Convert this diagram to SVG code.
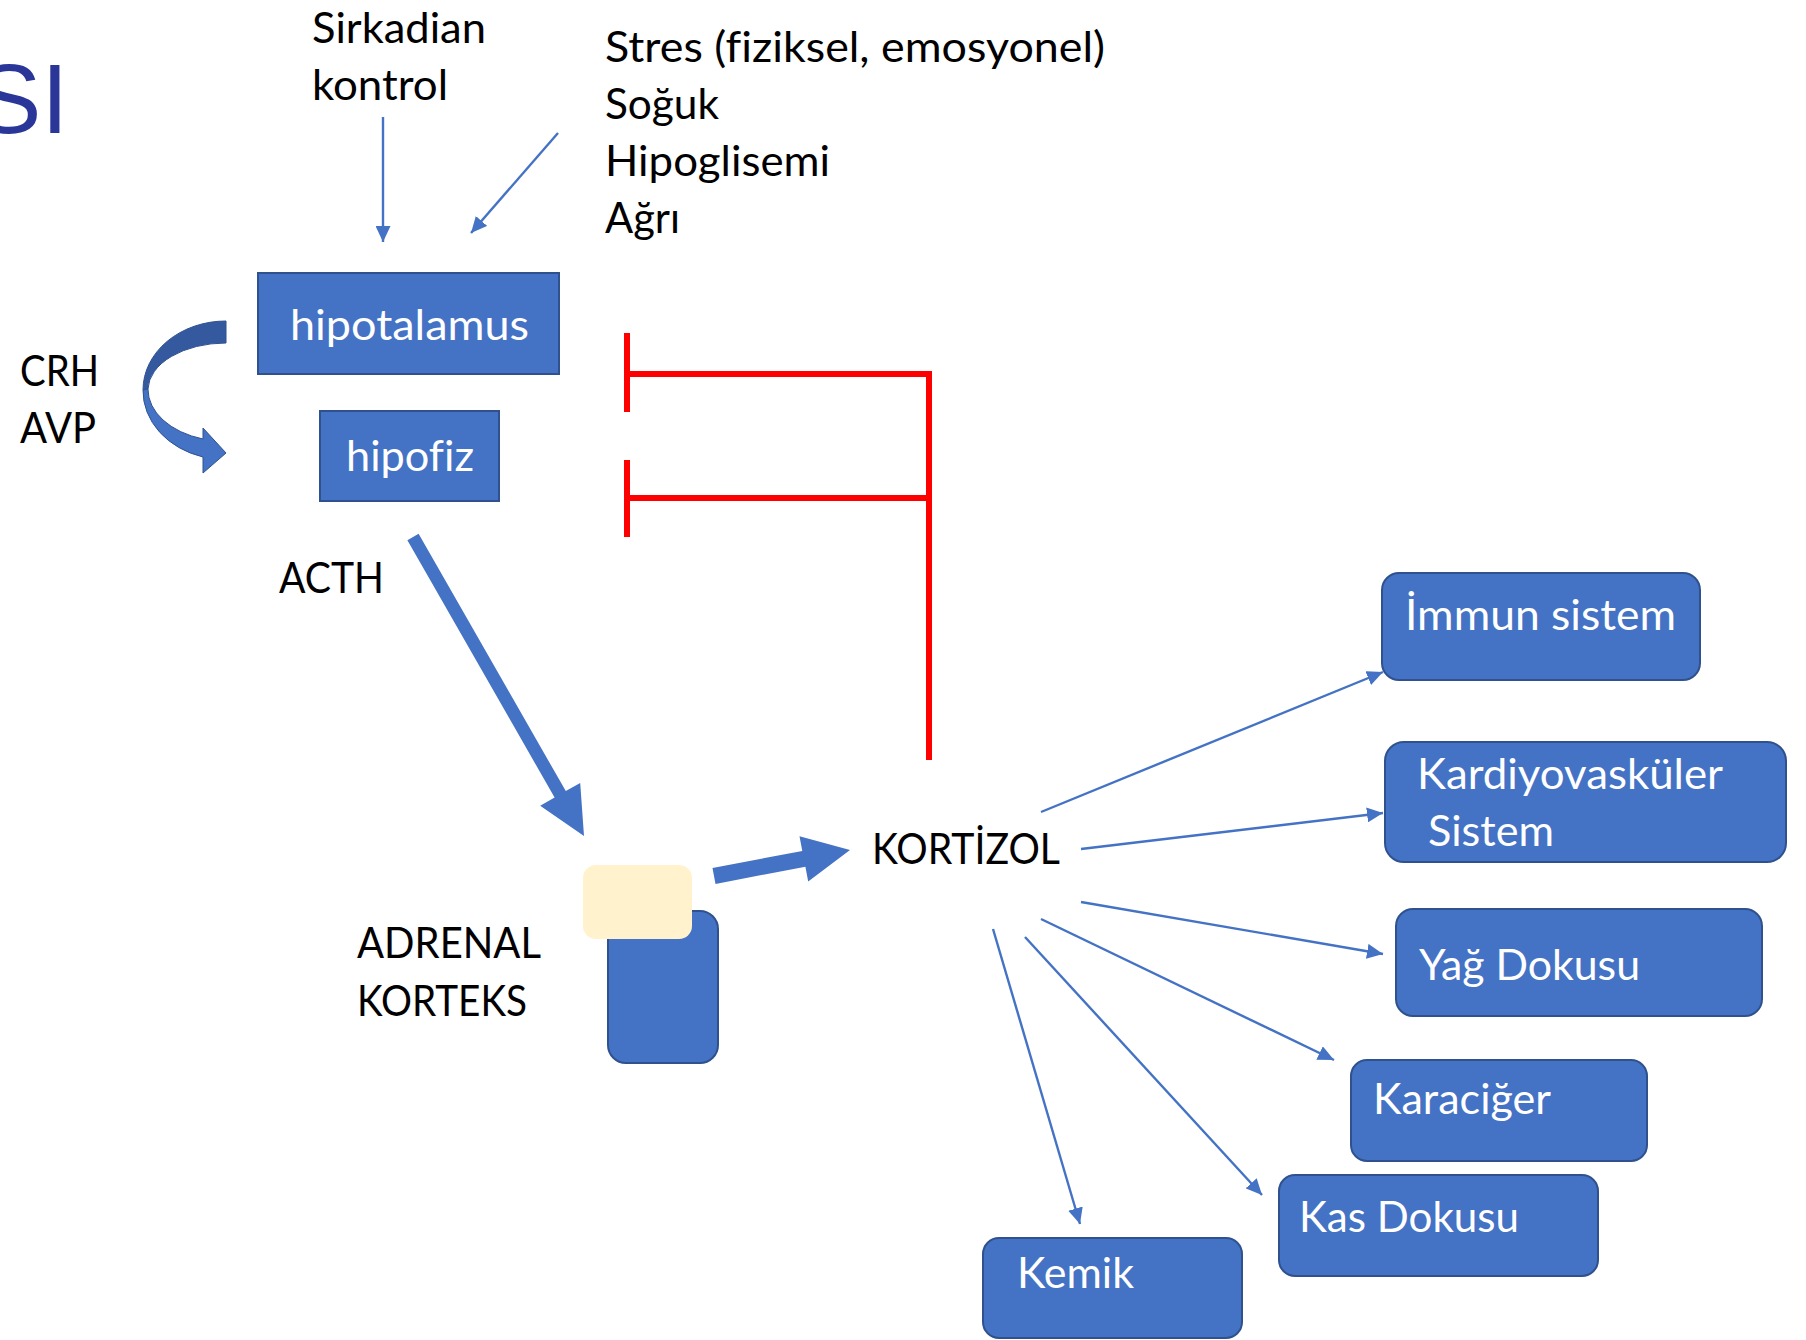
<svg xmlns="http://www.w3.org/2000/svg" width="1806" height="1340" viewBox="0 0 1806 1340">
<defs>
<style>
.lbl{font-family:Lato,"Open Sans","DejaVu Sans",sans-serif;font-size:42px;fill:#000;font-variant-ligatures:none;font-feature-settings:"liga" 0,"clig" 0}
.w{fill:#fff}
.box{fill:#4472C4;stroke:#2F528F;stroke-width:2}
.thin{stroke:#4472C4;stroke-width:2.4;fill:none;marker-end:url(#ah)}
.red{stroke:#FF0000;stroke-width:6;fill:none}
.thick{fill:#4472C4}
</style>
<marker id="ah" markerUnits="userSpaceOnUse" markerWidth="16" markerHeight="15" refX="16" refY="7.5" orient="auto">
<path d="M0,0 L16,7.5 L0,15 z" fill="#4472C4"/>
</marker>
</defs>
<rect width="1806" height="1340" fill="#fff"/>
<text x="-24" y="133" font-family="'Liberation Sans',Arial,sans-serif" font-size="98" fill="#2A3698">SI</text>

<g id="labels">
<text class="lbl" x="312" y="43" textLength="174" lengthAdjust="spacingAndGlyphs">Sirkadian</text>
<text class="lbl" x="312" y="100" textLength="136" lengthAdjust="spacingAndGlyphs">kontrol</text>
<text class="lbl" x="605" y="62" textLength="500" lengthAdjust="spacingAndGlyphs">Stres (fiziksel, emosyonel)</text>
<text class="lbl" x="605" y="119" textLength="114" lengthAdjust="spacingAndGlyphs">Soğuk</text>
<text class="lbl" x="605" y="176" textLength="225" lengthAdjust="spacingAndGlyphs">Hipoglisemi</text>
<text class="lbl" x="605" y="233" textLength="75" lengthAdjust="spacingAndGlyphs">Ağrı</text>
<text class="lbl" x="20" y="386" textLength="79" lengthAdjust="spacingAndGlyphs">CRH</text>
<text class="lbl" x="20" y="443" textLength="76" lengthAdjust="spacingAndGlyphs">AVP</text>
<text class="lbl" x="279" y="593" textLength="105" lengthAdjust="spacingAndGlyphs">ACTH</text>
<text class="lbl" x="357" y="958" textLength="184" lengthAdjust="spacingAndGlyphs">ADRENAL</text>
<text class="lbl" x="357" y="1016" textLength="170" lengthAdjust="spacingAndGlyphs">KORTEKS</text>
</g>

<g id="hipotalamus">
<rect class="box" x="258" y="273" width="301" height="101"/>
<text class="lbl w" x="290" y="340" textLength="239" lengthAdjust="spacingAndGlyphs">hipotalamus</text>
</g>
<g id="hipofiz">
<rect class="box" x="320" y="411" width="179" height="90"/>
<text class="lbl w" x="346" y="471" textLength="128" lengthAdjust="spacingAndGlyphs">hipofiz</text>
</g>
<g id="adrenal">
<rect x="608" y="911" width="110" height="152" rx="18" fill="#4472C4" stroke="#2F528F" stroke-width="2"/>
<rect x="583" y="865" width="109" height="74" rx="13" fill="#FFF2CC"/>
</g>
<g id="kortizol">
<text class="lbl" x="872" y="864" textLength="188" lengthAdjust="spacingAndGlyphs">KORTİZOL</text>
</g>
<g id="immun">
<rect class="box" x="1382" y="573" width="318" height="107" rx="17"/>
<text class="lbl w" x="1405" y="630" textLength="271" lengthAdjust="spacingAndGlyphs">İmmun sistem</text>
</g>
<g id="kardiyovaskuler">
<rect class="box" x="1385" y="742" width="401" height="120" rx="19"/>
<text class="lbl w" x="1417" y="789" textLength="306" lengthAdjust="spacingAndGlyphs">Kardiyovasküler</text>
<text class="lbl w" x="1428" y="846" textLength="126" lengthAdjust="spacingAndGlyphs">Sistem</text>
</g>
<g id="yag">
<rect class="box" x="1396" y="909" width="366" height="107" rx="17"/>
<text class="lbl w" x="1419" y="980" textLength="221" lengthAdjust="spacingAndGlyphs">Yağ Dokusu</text>
</g>
<g id="karaciger">
<rect class="box" x="1351" y="1060" width="296" height="101" rx="16"/>
<text class="lbl w" x="1373" y="1114" textLength="178" lengthAdjust="spacingAndGlyphs">Karaciğer</text>
</g>
<g id="kas">
<rect class="box" x="1279" y="1175" width="319" height="101" rx="16"/>
<text class="lbl w" x="1299" y="1232" textLength="220" lengthAdjust="spacingAndGlyphs">Kas Dokusu</text>
</g>
<g id="kemik">
<rect class="box" x="983" y="1238" width="259" height="100" rx="16"/>
<text class="lbl w" x="1017" y="1288" textLength="117" lengthAdjust="spacingAndGlyphs">Kemik</text>
</g>

<g id="connectors">
<line class="thin" x1="383" y1="117" x2="383" y2="242"/>
<line class="thin" x1="558" y1="133" x2="471" y2="233"/>
<path d="M226,321 A83,69 0 0 0 143,390 L148,389 A78,47 0 0 1 226,343 Z" fill="#34599E" stroke="#2F528F" stroke-width="1"/>
<path d="M143,390 A83,69 0 0 0 203,457 L203,473 L226,453 L203,428 L203,439 A78,52 0 0 1 148,389 Z" fill="#4472C4" stroke="#2F528F" stroke-width="1"/>
<polyline class="red" points="627,333 627,412"/>
<polyline class="red" points="627,374 929,374 929,760"/>
<polyline class="red" points="627,460 627,537"/>
<polyline class="red" points="627,498 929,498"/>
<polygon class="thick" points="418.6,533.8 565.8,791.1 580.2,782.9 584,836 540.2,805.7 554.6,797.5 407.4,540.2"/>
<polygon class="thick" points="712.5,868.1 802.3,850.9 799.5,836.2 850,850 808.2,881.4 805.4,866.7 715.5,883.9"/>
<line class="thin" x1="1041" y1="812" x2="1383" y2="672"/>
<line class="thin" x1="1081" y1="849" x2="1383" y2="813"/>
<line class="thin" x1="1081" y1="902" x2="1383" y2="954"/>
<line class="thin" x1="1041" y1="919" x2="1334" y2="1060"/>
<line class="thin" x1="1025" y1="937" x2="1262" y2="1195"/>
<line class="thin" x1="993" y1="929" x2="1080" y2="1224"/>
</g>
</svg>
